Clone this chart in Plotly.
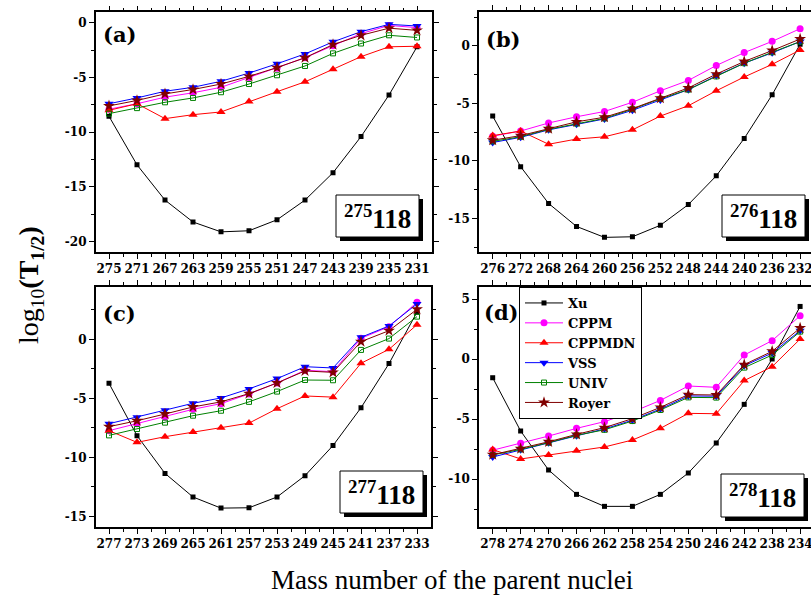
import plotly.graph_objects as go

W, H = 811, 598

# ---------------- data ----------------
series_names = ["Xu", "CPPM", "CPPMDN", "VSS", "UNIV", "Royer"]

A_mass = [275, 271, 267, 263, 259, 255, 251, 247, 243, 239, 235, 231]
A_Xu = [-8.55, -12.98, -16.2, -18.2, -19.1, -19.0, -18.0, -16.2, -13.7, -10.4, -6.6, -2.2]
A_CPPM = [-7.9, -7.4, -6.8, -6.4, -5.9, -5.0, -4.15, -3.2, -2.1, -1.0, -0.25, -0.45]
A_CPPMDN = [-8.0, -7.4, -8.76, -8.4, -8.15, -7.2, -6.3, -5.4, -4.25, -3.1, -2.2, -2.15]
A_VSS = [-7.4, -6.87, -6.26, -5.9, -5.35, -4.6, -3.75, -2.85, -1.75, -0.82, -0.15, -0.3]
A_UNIV = [-8.3, -7.8, -7.27, -6.87, -6.35, -5.6, -4.8, -3.95, -2.8, -1.9, -1.15, -1.35]
A_Royer = [-7.6, -7.1, -6.5, -6.1, -5.6, -4.9, -4.1, -3.2, -2.0, -1.15, -0.5, -0.7]

B_mass = [276, 272, 268, 264, 260, 256, 252, 248, 244, 240, 236, 232]
B_Xu = [-6.1, -10.5, -13.7, -15.7, -16.65, -16.6, -15.6, -13.8, -11.3, -8.05, -4.25, 0.15]
B_CPPM = [-7.85, -7.4, -6.7, -6.16, -5.7, -4.9, -3.9, -3.0, -1.7, -0.58, 0.4, 1.5]
B_CPPMDN = [-7.8, -7.4, -8.55, -8.1, -7.9, -7.3, -6.1, -5.2, -3.9, -2.7, -1.6, -0.35]
B_VSS = [-8.4, -7.95, -7.3, -6.8, -6.35, -5.6, -4.7, -3.8, -2.6, -1.5, -0.6, 0.38]
B_UNIV = [-8.3, -7.9, -7.25, -6.75, -6.3, -5.5, -4.6, -3.8, -2.65, -1.5, -0.55, 0.38]
B_Royer = [-8.2, -7.8, -7.2, -6.6, -6.2, -5.45, -4.55, -3.65, -2.45, -1.35, -0.4, 0.6]

C_mass = [277, 273, 269, 265, 261, 257, 253, 249, 245, 241, 237, 233]
C_Xu = [-3.73, -8.16, -11.36, -13.36, -14.3, -14.27, -13.36, -11.55, -9.0, -5.8, -2.06, 2.3]
C_CPPM = [-7.74, -7.15, -6.58, -5.93, -5.45, -4.63, -3.7, -2.63, -2.74, 0.08, 1.07, 3.13]
C_CPPMDN = [-7.74, -8.73, -8.25, -7.85, -7.5, -7.1, -5.88, -4.8, -4.9, -2.03, -0.85, 1.24]
C_VSS = [-7.15, -6.6, -6.0, -5.42, -4.97, -4.2, -3.33, -2.32, -2.43, 0.17, 1.13, 3.0]
C_UNIV = [-8.14, -7.6, -7.06, -6.47, -6.05, -5.3, -4.43, -3.45, -3.47, -0.9, 0.06, 1.92]
C_Royer = [-7.4, -6.9, -6.33, -5.73, -5.3, -4.6, -3.7, -2.68, -2.8, -0.2, 0.73, 2.54]

D_mass = [278, 274, 270, 266, 262, 258, 254, 250, 246, 242, 238, 234]
D_Xu = [-1.56, -6.0, -9.25, -11.28, -12.28, -12.28, -11.28, -9.5, -7.0, -3.78, 0.0, 4.38]
D_CPPM = [-7.6, -7.03, -6.42, -5.78, -5.22, -4.42, -3.45, -2.25, -2.36, 0.33, 1.53, 3.6]
D_CPPMDN = [-7.55, -8.33, -8.0, -7.64, -7.33, -6.75, -5.78, -4.53, -4.56, -1.8, -0.64, 1.66]
D_VSS = [-8.17, -7.56, -6.97, -6.4, -5.83, -5.1, -4.17, -3.08, -3.1, -0.56, 0.5, 2.36]
D_UNIV = [-8.0, -7.53, -6.97, -6.36, -5.9, -5.17, -4.25, -3.2, -3.22, -0.72, 0.33, 2.28]
D_Royer = [-7.98, -7.47, -6.9, -6.28, -5.72, -4.97, -4.03, -2.97, -3.0, -0.47, 0.64, 2.58]

A_yticks = [0, -5, -10, -15, -20]
B_yticks = [0, -5, -10, -15]
C_yticks = [0, -5, -10, -15]
D_yticks = [5, 0, -5, -10]

panel_labels = ["(a)", "(b)", "(c)", "(d)"]
nuclide_A = ["275", "276", "277", "278"]
nuclide_Z = "118"

# ---------------- styles ----------------
colors = {"Xu": "#000000", "CPPM": "#FF00FF", "CPPMDN": "#FF0000",
          "VSS": "#0000FF", "UNIV": "#008000", "Royer": "#800000"}
symbols = {"Xu": "square", "CPPM": "circle", "CPPMDN": "triangle-up",
           "VSS": "triangle-down", "UNIV": "square-open", "Royer": "star"}
sizes = {"Xu": 5, "CPPM": 7, "CPPMDN": 8, "VSS": 8, "UNIV": 5, "Royer": 9}

panels = [
    dict(mass=A_mass, data=[A_Xu, A_CPPM, A_CPPMDN, A_VSS, A_UNIV, A_Royer],
         box=(95.7, 12.3, 432, 252), yrange=[-20.94, 0.95], yticks=A_yticks,
         xr=(0.475, 0.535), label_xy=(119, 35), nbox=(336, 195, 419, 237)),
    dict(mass=B_mass, data=[B_Xu, B_CPPM, B_CPPMDN, B_VSS, B_UNIV, B_Royer],
         box=(479, 11.7, 811, 252.3), yrange=[-17.95, 2.98], yticks=B_yticks,
         xr=(0.49, 0.39), label_xy=(503, 40), nbox=(722, 195, 805, 237)),
    dict(mass=C_mass, data=[C_Xu, C_CPPM, C_CPPMDN, C_VSS, C_UNIV, C_Royer],
         box=(95.7, 287, 431, 527), yrange=[-15.9, 4.43], yticks=C_yticks,
         xr=(0.475, 0.5), label_xy=(119, 313), nbox=(340, 471, 423, 513)),
    dict(mass=D_mass, data=[D_Xu, D_CPPM, D_CPPMDN, D_VSS, D_UNIV, D_Royer],
         box=(479, 287, 811, 527), yrange=[-14.0, 6.0], yticks=D_yticks,
         xr=(0.49, 0.39), label_xy=(502, 312), nbox=(721, 474, 804, 517)),
]


def px(x):
    return x / W


def py(y):
    return 1 - y / H


TICKFONT = dict(family="DejaVu Serif", size=12, color="black", weight="bold")

fig = go.Figure()
layout = {}
shapes = []
annotations = []

for i, p in enumerate(panels):
    k = "" if i == 0 else str(i + 1)
    xa, ya = "x" + k, "y" + k
    mass = p["mass"]
    for j, name in enumerate(series_names):
        fig.add_trace(go.Scatter(
            x=mass, y=p["data"][j], xaxis=xa, yaxis=ya, mode="lines+markers",
            name=name, showlegend=(i == 3),
            line=dict(color=colors[name], width=1),
            marker=dict(symbol=symbols[name], size=sizes[name], color=colors[name],
                        line=dict(width=1 if name == "UNIV" else 0, color=colors[name])),
        ))
    x0, y0, x1, y1 = p["box"]
    step = mass[0] - mass[1]
    xr0 = mass[0] + p["xr"][0] * step
    xr1 = mass[-1] - p["xr"][1] * step
    layout["xaxis" + k] = dict(
        domain=[px(x0), px(x1)], anchor=ya, range=[xr0, xr1],
        tickvals=mass, ticktext=[str(m) for m in mass], tickfont=TICKFONT,
        ticklabeloverflow="allow",
        ticks="outside", ticklen=5, tickwidth=1.2, tickcolor="black",
        minor=dict(tickvals=[m - step / 2 for m in mass[:-1]], ticks="outside",
                   ticklen=3, tickwidth=1, tickcolor="black"),
        showline=True, linecolor="black", linewidth=1.5, mirror="ticks",
        showgrid=False, zeroline=False, automargin=False, fixedrange=True,
    )
    yt = p["yticks"]
    layout["yaxis" + k] = dict(
        domain=[py(y1), py(y0)], anchor=xa, range=p["yrange"],
        tickvals=yt, ticktext=[str(v) for v in yt], tickfont=TICKFONT,
        ticklabeloverflow="allow",
        ticks="outside", ticklen=5, tickwidth=1.2, tickcolor="black",
        minor=dict(tickvals=[v - 2.5 for v in yt] + [yt[0] + 2.5], ticks="outside",
                   ticklen=3, tickwidth=1, tickcolor="black"),
        showline=True, linecolor="black", linewidth=1.5, mirror="ticks",
        showgrid=False, zeroline=False, automargin=False, fixedrange=True,
    )
    # panel label
    lx, ly = p["label_xy"]
    annotations.append(dict(
        x=px(lx), y=py(ly), xref="paper", yref="paper", text="<b>%s</b>" % panel_labels[i],
        showarrow=False, font=dict(family="DejaVu Serif", size=21, color="black"),
        xanchor="center", yanchor="middle"))
    # nuclide box with shadow
    bx0, by0, bx1, by1 = p["nbox"]
    shapes.append(dict(type="rect", xref="paper", yref="paper",
                       x0=px(bx0 + 4), x1=px(bx1 + 4), y0=py(by1 + 4), y1=py(by0 + 4),
                       fillcolor="black", line=dict(width=0)))
    shapes.append(dict(type="rect", xref="paper", yref="paper",
                       x0=px(bx0), x1=px(bx1), y0=py(by1), y1=py(by0),
                       fillcolor="white", line=dict(width=1, color="black")))
    annotations.append(dict(
        x=px((bx0 + bx1) / 2), y=py((by0 + by1) / 2 + 1), xref="paper", yref="paper",
        text="<b><sup>%s</sup>%s</b>" % (nuclide_A[i], nuclide_Z), showarrow=False,
        font=dict(family="Liberation Serif", size=27, color="black"),
        xanchor="center", yanchor="middle"))

# axis titles
annotations.append(dict(
    x=px(452), y=py(580), xref="paper", yref="paper",
    text="Mass number of the parent nuclei", showarrow=False,
    font=dict(family="Liberation Serif", size=27, color="black"),
    xanchor="center", yanchor="middle"))
annotations.append(dict(
    x=px(30), y=py(285), xref="paper", yref="paper", textangle=-90,
    text="log<sub>10</sub><b>(T<sub>1/2</sub>)</b>", showarrow=False,
    font=dict(family="Liberation Serif", size=28, color="black"),
    xanchor="center", yanchor="middle"))

fig.update_layout(
    **layout,
    width=W, height=H, margin=dict(l=0, r=0, t=0, b=0),
    paper_bgcolor="white", plot_bgcolor="white",
    shapes=shapes, annotations=annotations,
    legend=dict(x=px(519), y=py(287), xanchor="left", yanchor="top",
                bgcolor="white", bordercolor="black", borderwidth=1,
                font=dict(family="DejaVu Serif", size=13, color="black", weight="bold"),
                itemwidth=38, tracegroupgap=0),
    showlegend=True,
)

fig.write_html("out.html")
